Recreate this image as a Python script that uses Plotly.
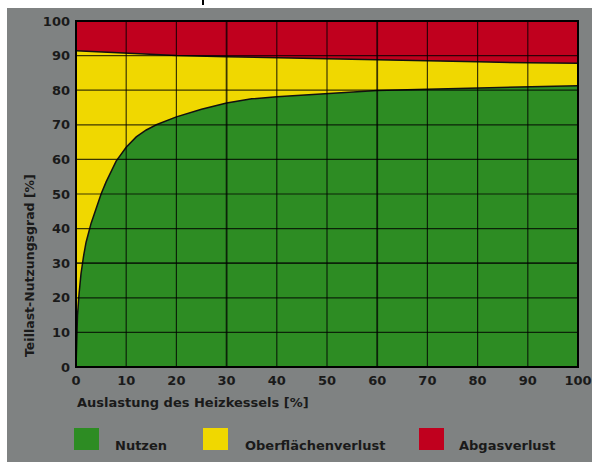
import plotly.graph_objects as go

# ---- data ----
load_x = [0, 0.1, 0.3, 0.6, 1, 1.5, 2, 3, 4, 5, 6, 7, 8, 10, 12, 14, 16, 20, 25, 30,
          35, 40, 50, 60, 70, 80, 90, 100]
nutzen = [0, 8, 15, 21, 27, 32, 36, 41.5, 46, 50, 53.5, 56.5, 59.5, 63.5, 66.5, 68.5,
          70, 72.3, 74.5, 76.3, 77.5, 78.1, 79.1, 79.9, 80.3, 80.6, 81.0, 81.3]

total_x = [0, 10, 20, 30, 40, 50, 60, 70, 80, 90, 100]
total = [91.4, 90.6, 90.0, 89.7, 89.3, 89.1, 88.8, 88.4, 88.2, 87.9, 87.8]

top_x = [0, 100]
top = [100, 100]

x_ticks = [0, 10, 20, 30, 40, 50, 60, 70, 80, 90, 100]
y_ticks = [0, 10, 20, 30, 40, 50, 60, 70, 80, 90, 100]
legend_names = ["Nutzen", "Oberflächenverlust", "Abgasverlust"]

# ---- styles ----
GREEN = "#2d8c23"
YELLOW = "#f0d800"
RED = "#c0001e"
GRAY = "#7f8282"
TXT = "#1a1a1a"
FONT = "DejaVu Sans"

W, H = 592, 462
L, R, T, B = 76, 14, 21, 95
pw, ph = W - L - R, H - T - B


def px(xp):
    return (xp - L) / pw


def py(yp):
    return (H - B - yp) / ph


fig = go.Figure()
fig.add_trace(go.Scatter(x=load_x, y=nutzen, mode="lines", fill="tozeroy",
                         fillcolor=GREEN, line=dict(color="#111", width=1.5),
                         name=legend_names[0], showlegend=False))
fig.add_trace(go.Scatter(x=total_x, y=total, mode="lines", fill="tonexty",
                         fillcolor=YELLOW, line=dict(color="#111", width=1.5),
                         name=legend_names[1], showlegend=False))
fig.add_trace(go.Scatter(x=top_x, y=top, mode="lines", fill="tonexty",
                         fillcolor=RED, line=dict(color="#111", width=0),
                         name=legend_names[2], showlegend=False))

shapes = []
major = {30, 60}
for v in x_ticks[1:-1]:
    shapes.append(dict(type="line", xref="x", yref="paper", x0=v, x1=v, y0=0, y1=1,
                       line=dict(color="rgba(0,0,0,0.75)", width=1.8 if v in major else 1.2),
                       layer="above"))
for v in y_ticks[1:-1]:
    shapes.append(dict(type="line", xref="paper", yref="y", x0=0, x1=1, y0=v, y1=v,
                       line=dict(color="rgba(0,0,0,0.75)", width=1.8 if v == 30 else 1.2),
                       layer="above"))
# frame
shapes.append(dict(type="rect", xref="paper", yref="paper", x0=0, x1=1, y0=0, y1=1,
                   line=dict(color="#000", width=2), layer="above"))
# white strips (top & left)
shapes.append(dict(type="rect", xref="paper", yref="paper", x0=px(-5), x1=px(W + 5),
                   y0=py(8), y1=py(-5), fillcolor="white", line=dict(width=0), layer="above"))
shapes.append(dict(type="rect", xref="paper", yref="paper", x0=px(-5), x1=px(7),
                   y0=py(H + 5), y1=py(-5), fillcolor="white", line=dict(width=0), layer="above"))
# cut-off glyph fragment at top
shapes.append(dict(type="line", xref="paper", yref="paper", x0=px(203), x1=px(203),
                   y0=py(5), y1=py(0), line=dict(color="#000", width=2), layer="above"))

# legend squares
legend_colors = [GREEN, YELLOW, RED]
sq_x = [74, 203, 419]
lab_x = [113, 243, 457]
annotations = []
for c, sx, lx, name in zip(legend_colors, sq_x, lab_x, legend_names):
    shapes.append(dict(type="rect", xref="paper", yref="paper", x0=px(sx), x1=px(sx + 25),
                       y0=py(450), y1=py(428), fillcolor=c, line=dict(width=0)))
    annotations.append(dict(xref="paper", yref="paper", x=px(lx), y=py(445), text=name,
                            showarrow=False, xanchor="left", yanchor="middle",
                            font=dict(family=FONT, size=13, color=TXT, weight="bold")))

annotations.append(dict(xref="paper", yref="paper", x=px(75), y=py(402),
                        text="Auslastung des Heizkessels [%]", showarrow=False,
                        xanchor="left", yanchor="middle",
                        font=dict(family=FONT, size=13, color=TXT, weight="bold")))
annotations.append(dict(xref="paper", yref="paper", x=px(29), y=py(266),
                        text="Teillast-Nutzungsgrad [%]", showarrow=False, textangle=-90,
                        xanchor="center", yanchor="middle",
                        font=dict(family=FONT, size=12.5, color=TXT, weight="bold")))

tickfont = dict(family=FONT, size=13, color=TXT, weight="bold")
fig.update_layout(
    width=W, height=H, autosize=False,
    margin=dict(l=L, r=R, t=T, b=B, pad=0, autoexpand=False),
    paper_bgcolor=GRAY, plot_bgcolor=GRAY,
    shapes=shapes, annotations=annotations,
    xaxis=dict(range=[0, 100], tickvals=x_ticks, ticktext=[str(v) for v in x_ticks],
               showgrid=False, zeroline=False, showline=False, ticks="", automargin=False,
               tickfont=tickfont, ticklabelstandoff=4, fixedrange=True),
    yaxis=dict(range=[0, 100], tickvals=y_ticks, ticktext=[str(v) for v in y_ticks],
               showgrid=False, zeroline=False, showline=False, ticks="", automargin=False,
               tickfont=tickfont, ticklabelstandoff=5, fixedrange=True),
    showlegend=False,
)

fig.write_html("out.html")
